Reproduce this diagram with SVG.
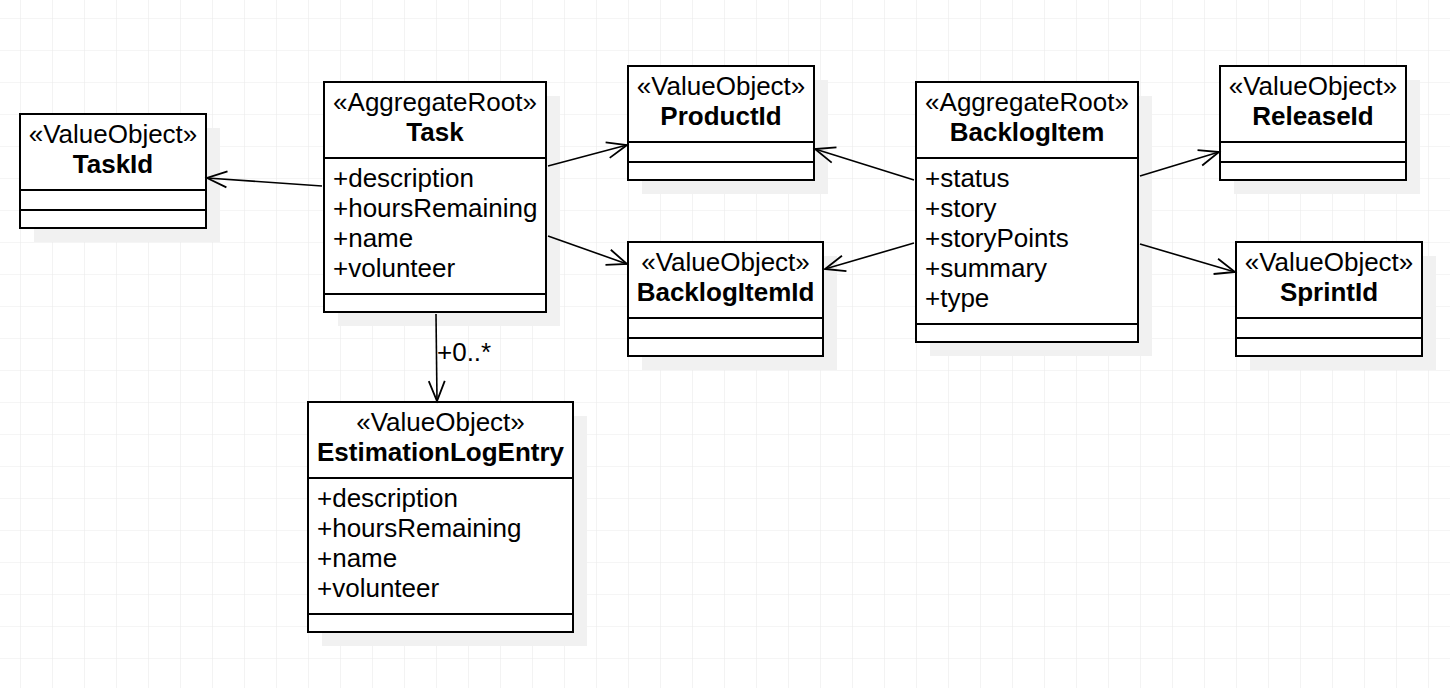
<svg xmlns="http://www.w3.org/2000/svg" width="1450" height="688" viewBox="0 0 1450 688">
<defs>
<style>
.bx{fill:#fff;stroke:#000;stroke-width:2}
.sh{fill:#f1f1f1;stroke:none}
.dv{stroke:#000;stroke-width:2}
.t{font-family:"Liberation Sans",Arial,sans-serif;font-size:26px;fill:#000}
.c{text-anchor:middle}
.b{font-weight:bold}
.ln{fill:none;stroke:#000;stroke-width:1.6}
</style>
<pattern id="grid" x="20" y="18" width="32" height="32" patternUnits="userSpaceOnUse">
<path d="M0,0 H32 M0,0 V32" fill="none" stroke="#ebebeb" stroke-width="1.2"/>
</pattern>
<marker id="open" markerUnits="userSpaceOnUse" markerWidth="30" markerHeight="30" refX="20" refY="10" orient="auto" overflow="visible">
<path d="M0,2 L20,10 L0,18" fill="none" stroke="#000" stroke-width="1.8"/>
</marker>
</defs>
<rect x="0" y="0" width="1450" height="688" fill="#fff"/>
<rect x="0" y="0" width="1450" height="688" fill="url(#grid)"/>

<g id="TaskId">
<rect class="sh" x="34" y="128" width="186" height="114"/>
<rect class="bx" x="20" y="114" width="186" height="114"/>
<line class="dv" x1="20" y1="190" x2="206" y2="190"/>
<line class="dv" x1="20" y1="210" x2="206" y2="210"/>
<text class="t c" x="113" y="143">«ValueObject»</text>
<text class="t c b" x="113" y="173">TaskId</text>
</g>

<g id="Task">
<rect class="sh" x="338" y="96" width="222" height="230"/>
<rect class="bx" x="324" y="82" width="222" height="230"/>
<line class="dv" x1="324" y1="158" x2="546" y2="158"/>
<line class="dv" x1="324" y1="294" x2="546" y2="294"/>
<text class="t c" x="435" y="111">«AggregateRoot»</text>
<text class="t c b" x="435" y="141">Task</text>
<text class="t" x="333" y="187">+description</text>
<text class="t" x="333" y="217">+hoursRemaining</text>
<text class="t" x="333" y="247">+name</text>
<text class="t" x="333" y="277">+volunteer</text>
</g>

<g id="ProductId">
<rect class="sh" x="642" y="80" width="186" height="114"/>
<rect class="bx" x="628" y="66" width="186" height="114"/>
<line class="dv" x1="628" y1="142" x2="814" y2="142"/>
<line class="dv" x1="628" y1="162" x2="814" y2="162"/>
<text class="t c" x="721" y="95">«ValueObject»</text>
<text class="t c b" x="721" y="125">ProductId</text>
</g>

<g id="BacklogItemId">
<rect class="sh" x="642" y="256" width="195" height="114"/>
<rect class="bx" x="628" y="242" width="195" height="114"/>
<line class="dv" x1="628" y1="318" x2="823" y2="318"/>
<line class="dv" x1="628" y1="338" x2="823" y2="338"/>
<text class="t c" x="725.5" y="271">«ValueObject»</text>
<text class="t c b" x="725.5" y="301">BacklogItemId</text>
</g>

<g id="BacklogItem">
<rect class="sh" x="930" y="96" width="222" height="260"/>
<rect class="bx" x="916" y="82" width="222" height="260"/>
<line class="dv" x1="916" y1="158" x2="1138" y2="158"/>
<line class="dv" x1="916" y1="324" x2="1138" y2="324"/>
<text class="t c" x="1027" y="111">«AggregateRoot»</text>
<text class="t c b" x="1027" y="141">BacklogItem</text>
<text class="t" x="925" y="187">+status</text>
<text class="t" x="925" y="217">+story</text>
<text class="t" x="925" y="247">+storyPoints</text>
<text class="t" x="925" y="277">+summary</text>
<text class="t" x="925" y="307">+type</text>
</g>

<g id="ReleaseId">
<rect class="sh" x="1234" y="80" width="186" height="114"/>
<rect class="bx" x="1220" y="66" width="186" height="114"/>
<line class="dv" x1="1220" y1="142" x2="1406" y2="142"/>
<line class="dv" x1="1220" y1="162" x2="1406" y2="162"/>
<text class="t c" x="1313" y="95">«ValueObject»</text>
<text class="t c b" x="1313" y="125">ReleaseId</text>
</g>

<g id="SprintId">
<rect class="sh" x="1250" y="256" width="186" height="114"/>
<rect class="bx" x="1236" y="242" width="186" height="114"/>
<line class="dv" x1="1236" y1="318" x2="1422" y2="318"/>
<line class="dv" x1="1236" y1="338" x2="1422" y2="338"/>
<text class="t c" x="1329" y="271">«ValueObject»</text>
<text class="t c b" x="1329" y="301">SprintId</text>
</g>

<g id="EstimationLogEntry">
<rect class="sh" x="322" y="416" width="265" height="230"/>
<rect class="bx" x="308" y="402" width="265" height="230"/>
<line class="dv" x1="308" y1="478" x2="573" y2="478"/>
<line class="dv" x1="308" y1="614" x2="573" y2="614"/>
<text class="t c" x="440.5" y="431">«ValueObject»</text>
<text class="t c b" x="440.5" y="461">EstimationLogEntry</text>
<text class="t" x="317" y="507">+description</text>
<text class="t" x="317" y="537">+hoursRemaining</text>
<text class="t" x="317" y="567">+name</text>
<text class="t" x="317" y="597">+volunteer</text>
</g>

<g id="connectors">
<line class="ln" x1="322" y1="186" x2="207" y2="178" marker-end="url(#open)"/>
<line class="ln" x1="548" y1="166" x2="627" y2="145" marker-end="url(#open)"/>
<line class="ln" x1="548" y1="236" x2="627" y2="264" marker-end="url(#open)"/>
<line class="ln" x1="436" y1="314" x2="437" y2="401" marker-end="url(#open)"/>
<text class="t" x="437" y="361">+0..*</text>
<line class="ln" x1="914" y1="180" x2="815" y2="149" marker-end="url(#open)"/>
<line class="ln" x1="914" y1="243" x2="825" y2="269" marker-end="url(#open)"/>
<line class="ln" x1="1140" y1="176" x2="1219" y2="152" marker-end="url(#open)"/>
<line class="ln" x1="1140" y1="244" x2="1235" y2="272" marker-end="url(#open)"/>
</g>
</svg>
